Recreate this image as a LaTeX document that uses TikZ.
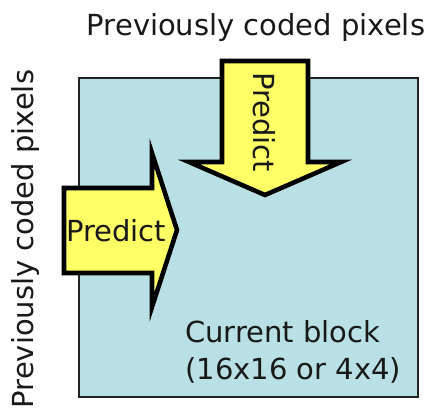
\documentclass[tikz,border=0pt]{standalone}
\usepackage{fontspec}
\setmainfont{DejaVu Sans}
\usepackage{tikz}
\usetikzlibrary{positioning}
\definecolor{blockfill}{RGB}{185,224,228}
\definecolor{predfill}{RGB}{255,255,102}
\definecolor{edgedark}{RGB}{35,35,35}
\tikzset{
  block/.style={draw=edgedark, fill=blockfill, line width=0.9pt},
  predarrow/.style={draw=black, fill=predfill, line width=2.6pt, miter limit=10},
  caption/.style={inner sep=0pt, text=black!90, font=\fontsize{16.5}{21}\selectfont}
}

\begin{document}
\begin{tikzpicture}[x=0.02cm, y=-0.02cm]
  \useasboundingbox (0,0) rectangle (433,410);
  % current block
  \draw[block] (79,78) rectangle (418,397);
  
  % prediction from the row above
  \draw[predarrow] (222,61) -- (308,61) -- (308,162) -- (341,162)
    -- (265,195) -- (189,162) -- (222,162) -- cycle;
  % prediction from the column on the left
  \draw[predarrow] (64,188) -- (152,188) -- (152,153) -- (177,230)
    -- (152,307) -- (152,273) -- (64,273) -- cycle;
  
  \node[caption, rotate=-90] (predtop) at (264,122) {Predict};
  \node[caption] (predleft) at (116,231) {Predict};
  
  \node[caption, anchor=base] (toplabel) at (256,35) {Previously coded pixels};
  \node[caption, rotate=90, anchor=base] (leftlabel) at (33,239) {Previously coded pixels};
  
  \node[caption, align=left, anchor=north west] (blocktext) at (185,320)
    {Current block\\(16x16 or 4x4)};
\end{tikzpicture}
\end{document}
